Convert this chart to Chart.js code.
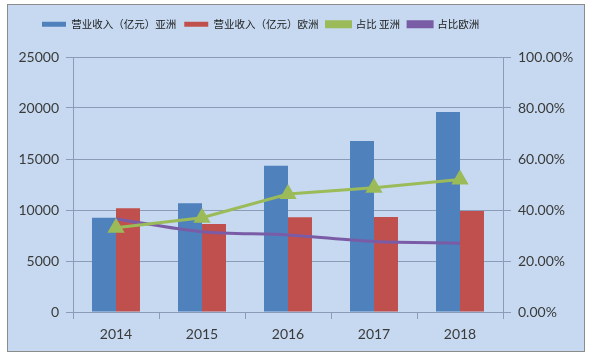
<!DOCTYPE html>
<html><head><meta charset="utf-8">
<script src="https://cdn.jsdelivr.net/npm/chart.js@4"></script>
<style>
html,body{margin:0;padding:0;background:#fff;}
#frame{position:absolute;left:7px;top:4px;width:576px;height:346px;border:1px solid #8c8c8c;background:#C6D9F1;}
canvas{display:block;}
</style></head>
<body>
<div id="frame"><canvas id="c" width="576" height="346"></canvas></div>
<script>
const categories = ['2014', '2015', '2016', '2017', '2018'];
const seriesNames = ['营业收入（亿元）亚洲', '营业收入（亿元）欧洲', '占比 亚洲', '占比欧洲'];
const asiaRevenue = [9240, 10650, 14340, 16770, 19600];
const europeRevenue = [10160, 8630, 9280, 9320, 9900];
const asiaShare = [0.33, 0.37, 0.463, 0.487, 0.52];
const europeShare = [0.365, 0.315, 0.302, 0.276, 0.27];
const leftTickValues = [0, 5000, 10000, 15000, 20000, 25000];
const rightTickValues = [0, 0.2, 0.4, 0.6, 0.8, 1.0];

const GRID = '#8A9DB8';
const TICKFONT = {family: 'Lato', size: 14};
const TICKCOLOR = '#3a3a3a';

const layoutFix = {
  id: 'layoutFix',
  beforeInit(chart) {
    const lg = chart.legend;
    const orig = lg.fit;
    lg.fit = function () { orig.call(this); this.height = 52; };
  },
  afterLayout(chart) {
    const lg = chart.legend;
    lg.left = 26;
    lg.top = 6;
  }
};

new Chart(document.getElementById('c'), {
  data: {
    labels: categories,
    datasets: [
      {type: 'bar', label: seriesNames[0], data: asiaRevenue, backgroundColor: '#4F81BD', borderWidth: 0, yAxisID: 'y', order: 2, categoryPercentage: 0.558, barPercentage: 1},
      {type: 'bar', label: seriesNames[1], data: europeRevenue, backgroundColor: '#C0504D', borderWidth: 0, yAxisID: 'y', order: 2, categoryPercentage: 0.558, barPercentage: 1},
      {type: 'line', label: seriesNames[2], data: asiaShare, borderColor: '#9BBB59', backgroundColor: '#9BBB59', borderWidth: 3, pointStyle: 'triangle', pointRadius: 7, pointBackgroundColor: '#9BBB59', pointBorderColor: '#9BBB59', tension: 0, yAxisID: 'y1', order: 1},
      {type: 'line', label: seriesNames[3], data: europeShare, borderColor: '#7A5CA6', backgroundColor: '#7A5CA6', borderWidth: 3, pointRadius: 0, tension: 0.3, yAxisID: 'y1', order: 1}
    ]
  },
  options: {
    responsive: false,
    animation: false,
    devicePixelRatio: 1,
    layout: {padding: 0},
    plugins: {
      tooltip: {enabled: false},
      legend: {
        display: true,
        position: 'top',
        align: 'start',
        labels: {
          boxWidth: 24,
          boxHeight: 5,
          padding: 8,
          color: '#1a1a1a',
          font: {family: 'Noto Sans CJK SC', size: 10.5},
          sort: (a, b) => a.datasetIndex - b.datasetIndex
        }
      }
    },
    scales: {
      x: {
        offset: true,
        grid: {offset: true, drawOnChartArea: false, drawTicks: true, tickLength: 7, color: GRID},
        border: {color: GRID},
        ticks: {font: TICKFONT, color: TICKCOLOR, padding: 7},
        afterFit(s) { s.height = 39; }
      },
      y: {
        position: 'left',
        min: 0, max: 25000,
        afterBuildTicks(s) { s.ticks = leftTickValues.map(v => ({value: v})); },
        ticks: {font: TICKFONT, color: TICKCOLOR, padding: 7, callback: v => String(v)},
        grid: {color: GRID, tickLength: 7},
        border: {color: GRID},
        afterFit(s) { s.width = 65; }
      },
      y1: {
        position: 'right',
        min: 0, max: 1,
        afterBuildTicks(s) { s.ticks = rightTickValues.map(v => ({value: v})); },
        ticks: {font: TICKFONT, color: TICKCOLOR, padding: 7, callback: v => (v * 100).toFixed(2) + '%'},
        grid: {drawOnChartArea: false, color: GRID, tickLength: 8},
        border: {color: GRID},
        afterFit(s) { s.width = 81; }
      }
    }
  },
  plugins: [layoutFix]
});
</script>
</body></html>
